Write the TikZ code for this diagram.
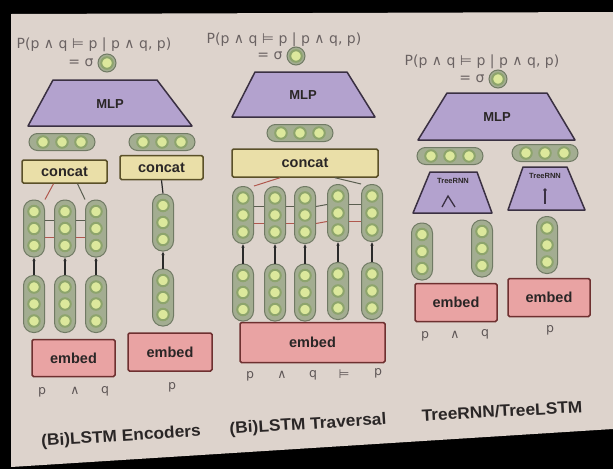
\documentclass[tikz,border=0pt]{standalone}
\usepackage{fontspec}
\setmainfont{Liberation Sans}
\newfontfamily\dejavu{DejaVu Sans}
\usetikzlibrary{arrows.meta,calc}
\definecolor{slidebg}{HTML}{DDD3CC}
\definecolor{mlpfill}{HTML}{B3A2CE}
\definecolor{mlpline}{HTML}{3A3042}
\definecolor{pillfill}{HTML}{A3AD91}
\definecolor{pillline}{HTML}{707A64}
\definecolor{neuin}{HTML}{DCE89C}
\definecolor{neuring}{HTML}{8DA46C}
\definecolor{catfill}{HTML}{EADFA8}
\definecolor{catline}{HTML}{5A5028}
\definecolor{embfill}{HTML}{E9A3A3}
\definecolor{embline}{HTML}{6E3030}
\definecolor{txt}{HTML}{2A2626}
\definecolor{fgrey}{HTML}{6A6262}
\definecolor{tokc}{HTML}{5E5656}
\definecolor{fwdc}{HTML}{5A5E50}
\definecolor{bwdc}{HTML}{B0584E}
\definecolor{arrc}{HTML}{2A2A2A}
\tikzset{
 vpill/.style={rectangle, rounded corners=10pt, minimum width=21pt, fill=pillfill, draw=pillline, line width=1pt, inner sep=0pt},
 hpill/.style={rectangle, rounded corners=8.5pt, minimum height=17pt, fill=pillfill, draw=pillline, line width=1pt, inner sep=0pt},
 neuron/.style={circle, inner sep=0pt, minimum size=11.5pt, fill=neuin, draw=neuring, line width=2pt},
 catbox/.style={rectangle, fill=catfill, draw=catline, line width=1.5pt, rounded corners=1.5pt, font=\bfseries\fontsize{14.5}{14.5}\selectfont, text=txt},
 embbox/.style={rectangle, fill=embfill, draw=embline, line width=1.5pt, rounded corners=1.5pt, font=\bfseries\fontsize{14.5}{14.5}\selectfont, text=txt},
 mlpshape/.style={fill=mlpfill, draw=mlpline, line width=1.5pt, line join=round},
 lbl/.style={font=\bfseries\fontsize{13}{13}\selectfont, text=txt},
 treelbl/.style={font=\bfseries\fontsize{7.5}{7.5}\selectfont, text=txt},
 tok/.style={font=\dejavu\fontsize{12.5}{12.5}\selectfont, text=tokc},
 fwd/.style={draw=fwdc, line width=1pt},
 bwd/.style={draw=bwdc, line width=1pt},
 uparrow/.style={-{Latex[length=3.5pt,width=3.5pt]}, draw=arrc, line width=1.2pt},
 plainline/.style={draw=arrc, line width=1.2pt},
 ptitle/.style={font=\bfseries\fontsize{16.5}{16.5}\selectfont, text=txt, rotate=3.5, xscale=1.05},
 formula/.style={font=\dejavu\fontsize{14}{14}\selectfont, text=fgrey},
 treesym/.style={draw=mlpline, line width=1.3pt},
}
% vertical pill with three neurons: name, x, y centre
\newcommand\vcol[3]{%
 \node[vpill, minimum height=57pt] (#1) at (#2,#3) {};
 \node[neuron] (#1a) at (#2,#3-17) {};
 \node[neuron] (#1b) at (#2,#3) {};
 \node[neuron] (#1c) at (#2,#3+17) {};
}
% horizontal pill with three neurons: name, x, y centre
\newcommand\hrow[3]{%
 \node[hpill, minimum width=66pt] (#1) at (#2,#3) {};
 \node[neuron] (#1a) at (#2-19,#3) {};
 \node[neuron] (#1b) at (#2,#3) {};
 \node[neuron] (#1c) at (#2+19,#3) {};
}
\begin{document}
\begin{tikzpicture}[x=1pt,y=-1pt]
\useasboundingbox (0,0) rectangle (613,469);
\fill[black] (0,0) rectangle (613,469);
\fill[slidebg] (11,14) -- (613,12) -- (613,429) -- (11,467) -- cycle;

% ================= Panel 1: (Bi)LSTM Encoders =================
\node[formula] (f1) at (94,45) {P(p ∧ q ⊨ p | p ∧ q, p)};
\node[formula, anchor=east] (s1) at (97,63) {= σ};
\node[circle, fill=pillfill, draw=pillline, line width=1pt, minimum size=18pt, inner sep=0pt] (o1p) at (107,63) {};
\node[neuron] (o1) at (107,63) {};
\draw[mlpshape] (53,80) -- (157,80) -- (192,126) -- (28,126) -- cycle;
\node[lbl] (mlp1) at (110,104) {MLP};
\hrow{ha}{62}{142}
\hrow{hb}{162}{142}
\node[catbox, minimum width=85pt, minimum height=23pt] (catA) at (64.5,171.5) {concat};
\node[catbox, minimum width=83pt, minimum height=24pt] (catB) at (161.5,167.5) {concat};
\vcol{ua}{34}{228.5}
\vcol{ub}{65}{228.5}
\vcol{uc}{96}{228.5}
\vcol{la}{34}{304}
\vcol{lb}{65}{304}
\vcol{lc}{96}{304}
\vcol{ud}{163}{222.5}
\vcol{ld}{163}{297.5}
\draw[uparrow] (la.north) -- (ua.south);
\draw[uparrow] (lb.north) -- (ub.south);
\draw[uparrow] (lc.north) -- (uc.south);
\draw[uparrow] (ld.north) -- (ud.south);
\draw[fwd] ([yshift=8.5pt]ua.east) -- ([yshift=8.5pt]ub.west);
\draw[fwd] ([yshift=8.5pt]ub.east) -- ([yshift=8.5pt]uc.west);
\draw[bwd] ([yshift=-8.5pt]ua.east) -- ([yshift=-8.5pt]ub.west);
\draw[bwd] ([yshift=-8.5pt]ub.east) -- ([yshift=-8.5pt]uc.west);
\draw[bwd] ([xshift=-11pt]catA.south) -- (ua.north east);
\draw[fwd] ([xshift=13pt]catA.south) -- (uc.north west);
\draw[plainline] (ud.north) -- (catB.south);
\node[embbox, minimum width=83pt, minimum height=37pt] (embA) at (73.5,358) {embed};
\node[embbox, minimum width=84pt, minimum height=38pt] (embB) at (170,352) {embed};
\node[tok] (t1) at (42,392) {p};
\node[tok] (t2) at (75,391) {∧};
\node[tok] (t3) at (105,391) {q};
\node[tok] (t4) at (172,387) {p};
\node[ptitle] (title1) at (121,437) {(Bi)LSTM Encoders};

% ================= Panel 2: (Bi)LSTM Traversal =================
\node[formula] (f2) at (284,40) {P(p ∧ q ⊨ p | p ∧ q, p)};
\node[formula, anchor=east] (s2) at (286,56) {= σ};
\node[circle, fill=pillfill, draw=pillline, line width=1pt, minimum size=18pt, inner sep=0pt] (o2p) at (296,56) {};
\node[neuron] (o2) at (296,56) {};
\draw[mlpshape] (255,72) -- (347,72) -- (375,117) -- (232,117) -- cycle;
\node[lbl] (mlp2) at (303,95) {MLP};
\hrow{hc}{300}{133}
\node[catbox, minimum width=146pt, minimum height=28pt] (catC) at (305,163) {concat};
\vcol{va}{243}{215}
\vcol{vb}{275}{215}
\vcol{vc}{305}{215}
\vcol{vd}{338}{213}
\vcol{ve}{372}{213}
\vcol{wa}{243}{292.5}
\vcol{wb}{275}{292.5}
\vcol{wc}{305}{292.5}
\vcol{wd}{338}{291}
\vcol{we}{372}{291}
\draw[uparrow] (wa.north) -- (va.south);
\draw[uparrow] (wb.north) -- (vb.south);
\draw[uparrow] (wc.north) -- (vc.south);
\draw[uparrow] (wd.north) -- (vd.south);
\draw[uparrow] (we.north) -- (ve.south);
\draw[fwd] ([yshift=8.5pt]va.east) -- ([yshift=8.5pt]vb.west);
\draw[fwd] ([yshift=8.5pt]vb.east) -- ([yshift=8.5pt]vc.west);
\draw[fwd] ([yshift=8.5pt]vc.east) -- ([yshift=8.5pt]vd.west);
\draw[fwd] ([yshift=8.5pt]vd.east) -- ([yshift=8.5pt]ve.west);
\draw[bwd] ([yshift=-8.5pt]va.east) -- ([yshift=-8.5pt]vb.west);
\draw[bwd] ([yshift=-8.5pt]vb.east) -- ([yshift=-8.5pt]vc.west);
\draw[bwd] ([yshift=-8.5pt]vc.east) -- ([yshift=-8.5pt]vd.west);
\draw[bwd] ([yshift=-8.5pt]vd.east) -- ([yshift=-8.5pt]ve.west);
\draw[bwd] ([xshift=-25pt]catC.south) -- (va.north east);
\draw[fwd] ([xshift=30pt]catC.south) -- (ve.north west);
\node[embbox, minimum width=145pt, minimum height=40pt] (embC) at (312.5,342.5) {embed};
\node[tok] (t5) at (250,376) {p};
\node[tok] (t6) at (282,375) {∧};
\node[tok] (t7) at (313,375) {q};
\node[tok] (t8) at (344,374) {⊨};
\node[tok] (t9) at (378,373) {p};
\node[ptitle] (title2) at (308,425) {(Bi)LSTM Traversal};

% ================= Panel 3: TreeRNN/TreeLSTM =================
\node[formula] (f3) at (482,62) {P(p ∧ q ⊨ p | p ∧ q, p)};
\node[formula, anchor=east] (s3) at (488,79) {= σ};
\node[circle, fill=pillfill, draw=pillline, line width=1pt, minimum size=18pt, inner sep=0pt] (o3p) at (498,79) {};
\node[neuron] (o3) at (498,79) {};
\draw[mlpshape] (447,93) -- (547,93) -- (575,140) -- (418,140) -- cycle;
\node[lbl] (mlp3) at (497,117) {MLP};
\hrow{hd}{450}{156}
\hrow{he}{545}{153}
\draw[mlpshape] (430,172) -- (477,172) -- (492,213) -- (413,213) -- cycle;
\node[treelbl] (tr1) at (453,181) {TreeRNN};
\draw[treesym] (442,207) -- (448,196) -- (455,207);
\draw[mlpshape] (523,167) -- (567,167) -- (585,210) -- (508,210) -- cycle;
\node[treelbl] (tr2) at (545,176) {TreeRNN};
\draw[treesym] (545,191) -- (545,204);
\fill[mlpline] (545,190) circle (1.8pt);
\vcol{xa}{422}{251.5}
\vcol{xb}{482}{248.5}
\vcol{xc}{547}{245}
\node[embbox, minimum width=82pt, minimum height=38pt] (embD) at (456,302.5) {embed};
\node[embbox, minimum width=82pt, minimum height=38pt] (embE) at (549,297.5) {embed};
\node[tok] (t10) at (425,336) {p};
\node[tok] (t11) at (455,335) {∧};
\node[tok] (t12) at (485,334) {q};
\node[tok] (t13) at (550,330) {p};
\node[ptitle, rotate=-0.5] (title3) at (502,411) {TreeRNN/TreeLSTM};
\end{tikzpicture}
\end{document}
